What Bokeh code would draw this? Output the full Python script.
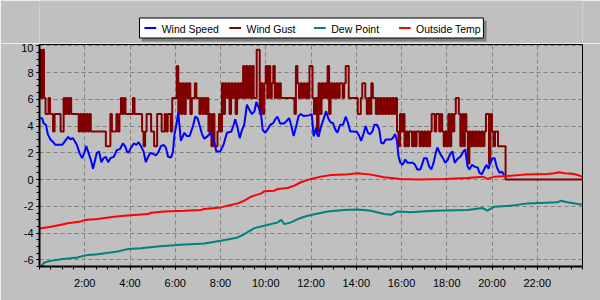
from bokeh.plotting import figure
from bokeh.layouts import column
from bokeh.models import Range1d, FixedTicker
from bokeh.core.properties import value
from bokeh.embed import file_html
from bokeh.resources import INLINE

# ---------------- data ----------------
# Wind speed: minutes after midnight / value
speed_min = [2, 7, 11, 17, 22, 29, 38, 42, 60, 68, 76, 82, 88, 93, 99, 106, 113, 119, 124, 130,
             137, 142, 147, 152, 158, 164, 170, 176, 182, 188, 197, 205, 214, 221, 227, 232, 236, 241, 250, 257,
             263, 269, 276, 282, 288, 294, 303, 309, 316, 322, 329, 335, 341, 349, 354, 358, 363, 368,
             375, 384, 391, 398, 407, 413, 419, 425, 431, 437, 446, 453, 459, 464, 469, 479, 488, 497,
             509, 515, 519, 525, 531, 537, 543, 550, 556, 563, 570, 575, 581, 587, 592, 599, 605, 612,
             619, 625, 631, 638, 649, 656, 662, 667, 674, 681, 687, 693, 700, 714, 722, 727, 734,
             736, 740, 746, 753, 760, 767, 773, 778, 784, 790, 797, 805, 812, 818, 824, 833, 842, 848,
             853, 859, 865, 871, 877, 883, 888, 895, 901, 906, 912, 918, 926, 932, 937, 943, 948, 952,
             957, 963, 970, 976, 983, 990, 996, 1002, 1010, 1016, 1020, 1027, 1033, 1039, 1045, 1051,
             1055, 1063, 1070, 1076, 1083, 1089, 1095, 1101, 1107,
             1111, 1117, 1124, 1129, 1135, 1140, 1147, 1155, 1162, 1167, 1173, 1179, 1185, 1191, 1195,
             1202, 1207, 1213, 1220, 1226, 1232]
speed_val = [4.58, 4.58, 4.2, 4.1, 3.4, 3.0, 2.75, 2.6, 2.6, 2.9, 3.2, 3.0, 3.1, 2.9, 2.6, 2.0, 1.6, 2.0, 2.5, 2.0,
             1.4, 0.8, 1.4, 2.0, 2.1, 1.3, 1.6, 1.7, 1.3, 1.6, 1.7, 2.2, 2.3, 2.7, 2.5, 2.1, 2.0, 2.3, 2.7, 2.6,
             2.8, 2.5, 2.1, 1.3, 1.7, 2.0, 1.9, 1.8, 2.1, 2.5, 2.6, 2.4, 1.7, 1.65, 2.1, 3.4, 4.1, 5.0,
             2.9, 3.5, 3.25, 3.25, 4.0, 4.7, 4.6, 4.0, 3.4, 3.05, 3.25, 3.5, 3.1, 2.75, 2.1, 2.1, 2.6, 3.5,
             3.6, 4.1, 4.5, 3.9, 3.1, 3.7, 4.1, 5.6, 5.25, 4.9, 5.1, 5.8, 5.4, 5.0, 3.7, 3.5, 3.75, 4.1,
             4.2, 4.5, 4.7, 4.2, 4.2, 4.4, 4.6, 4.1, 3.25, 4.0, 4.75, 4.9, 4.75, 4.8, 4.9, 3.25, 3.9,
             3.4, 3.2, 3.9, 4.5, 5.1, 4.5, 4.25, 4.25, 3.75, 3.5, 4.1, 4.1, 4.7, 4.25, 3.6, 3.6, 3.55, 3.25,
             2.9, 3.4, 4.0, 3.5, 3.4, 3.6, 4.1, 4.1, 3.75, 2.75, 2.7, 3.0, 3.0, 3.0, 3.1, 3.4, 2.9, 1.75,
             1.25, 1.1, 1.5, 1.25, 1.25, 1.25, 1.1, 0.75, 0.75, 1.25, 1.6, 1.6, 1.0, 0.75, 1.25, 2.0,
             2.4, 1.9, 1.6, 1.25, 1.5, 1.9, 2.1, 1.25, 1.5,
             1.6, 1.75, 2.1, 2.25, 1.0, 0.75, 1.1, 0.95, 0.9, 0.5, 0.4, 0.75, 1.1, 0.8, 1.25,
             1.6, 1.6, 0.9, 0.5, 0.6, 0.35]

# Wind gust: one row per hour, samples every 4 minutes
gust_step_min = 4
gust_rows = [
    [9.7, 6.1, 9.7, 6.1, 4.9, 4.9, 6.1, 4.9, 4.9, 3.6, 4.9, 4.9, 4.9, 4.9, 3.6],
    [3.6, 6.1, 4.9, 6.1, 4.9, 6.1, 4.9, 4.9, 4.9, 4.9, 4.9, 3.6, 4.9, 3.6, 4.9],
    [3.6, 4.9, 3.6, 4.9, 3.6, 3.6, 3.6, 3.6, 3.6, 3.6, 3.6, 3.6, 3.6, 3.6, 2.5],
    [2.5, 2.5, 4.9, 3.6, 3.6, 3.6, 4.9, 3.6, 4.9, 6.1, 4.9, 6.1, 4.9, 4.9, 4.9],
    [4.9, 4.9, 6.1, 4.9, 4.9, 4.9, 4.9, 4.9, 3.6, 2.5, 3.6, 4.9, 4.9, 4.9, 3.6],
    [3.6, 2.5, 2.5, 4.9, 4.9, 4.9, 3.6, 3.6, 4.9, 3.6, 4.9, 4.9, 3.6, 6.1, 6.1],
    [6.1, 8.5, 4.9, 7.2, 4.9, 7.2, 4.9, 7.2, 6.1, 7.2, 4.9, 6.1, 6.1, 7.2, 6.1],
    [6.1, 4.9, 6.1, 4.9, 6.1, 4.9, 6.1, 3.6, 4.9, 2.5, 4.9, 2.5, 2.5, 3.6, 4.9],
    [3.6, 7.2, 4.9, 7.2, 6.1, 7.2, 4.9, 7.2, 6.1, 7.2, 4.9, 7.2, 6.1, 7.2, 6.1],
    [8.5, 6.1, 8.5, 6.1, 8.5, 6.1, 8.5, 6.1, 6.1, 9.7, 9.7, 4.9, 7.2, 4.9, 7.2],
    [8.5, 6.1, 8.5, 6.1, 7.2, 8.5, 6.1, 7.2, 6.1, 7.2, 6.1, 6.1, 6.1, 6.1, 6.1],
    [6.1, 6.1, 6.1, 6.1, 4.9, 8.5, 7.2, 6.1, 7.2, 6.1, 7.2, 6.1, 7.2, 6.1, 8.5],
    [8.5, 6.1, 4.9, 6.1, 3.6, 7.2, 4.9, 7.2, 6.1, 7.2, 6.1, 8.5, 4.9, 7.2, 6.1],
    [7.2, 6.1, 7.2, 6.1, 7.2, 7.2, 6.1, 7.2, 8.5, 8.5, 6.1, 6.1, 6.1, 6.1, 6.1],
    [6.1, 4.9, 4.9, 6.1, 7.2, 7.2, 6.1, 4.9, 6.1, 4.9, 7.2, 6.1, 6.1, 4.9, 6.1],
    [4.9, 6.1, 4.9, 6.1, 4.9, 6.1, 4.9, 6.1, 4.9, 6.1, 4.9, 6.1, 3.6, 2.5, 4.9],
    [3.6, 4.9, 2.5, 3.6, 2.5, 3.6, 3.6, 2.5, 3.6, 2.5, 3.6, 3.6, 2.5, 3.6, 2.5],
    [3.6, 2.5, 3.6, 2.5, 3.6, 4.9, 4.9, 3.6, 4.9, 4.9, 3.6, 4.9, 3.6, 2.5, 3.6],
    [2.5, 4.9, 2.5, 4.9, 3.6, 4.9, 6.1, 6.1, 4.9, 2.5, 4.9, 2.5, 4.9, 3.6, 1.2],
    [3.6, 2.5, 3.6, 2.5, 3.6, 2.5, 3.6, 2.5, 3.6, 2.5, 3.6, 4.9, 4.9, 1.2, 4.9],
    [3.6, 2.5, 3.6, 3.6, 2.5, 2.5, 2.5, 2.5, 2.5, 0.0],
]
gust_tail_min = [1440]
gust_tail_val = [0.0]

# Outside temperature
temp_min = [0, 30, 57, 75, 110, 119, 154, 198, 225, 287, 296, 331, 384, 428, 437, 481, 499, 526, 543, 561,
            588, 596, 623, 632, 658, 676, 693, 720, 746, 773, 808, 844, 879, 914, 958, 1003, 1073, 1135,
            1175, 1188, 1206, 1241, 1285, 1347, 1365, 1378, 1392, 1418, 1440]
temp_val = [-3.65, -3.53, -3.38, -3.26, -3.13, -3.03, -2.95, -2.78, -2.7, -2.58, -2.48, -2.38, -2.33, -2.28,
            -2.2, -2.08, -1.95, -1.78, -1.58, -1.28, -1.03, -0.88, -0.83, -0.7, -0.63, -0.45, -0.2, 0.05,
            0.22, 0.34, 0.37, 0.47, 0.37, 0.18, 0.05, 0.0, 0.05, 0.12, 0.22, 0.05, 0.22, 0.27, 0.37, 0.42,
            0.47, 0.55, 0.47, 0.42, 0.22]

# Dew point
dew_min = [0, 4, 13, 30, 57, 101, 123, 154, 207, 234, 269, 313, 375, 437, 481, 526, 543, 570, 596, 632,
           641, 649, 667, 685, 702, 720, 764, 808, 844, 879, 914, 932, 950, 985, 1047, 1135, 1175, 1188,
           1206, 1250, 1294, 1374, 1383, 1400, 1440]
dew_val = [-6.55, -6.5, -6.2, -6.08, -5.95, -5.83, -5.65, -5.58, -5.38, -5.2, -5.13, -5.0, -4.88, -4.78,
           -4.58, -4.33, -4.08, -3.63, -3.45, -3.2, -3.0, -3.33, -3.2, -2.95, -2.78, -2.65, -2.38, -2.28,
           -2.23, -2.33, -2.58, -2.63, -2.38, -2.45, -2.33, -2.28, -2.13, -2.33, -2.03, -1.95, -1.78,
           -1.7, -1.58, -1.7, -1.88]

series_names = ["Wind Speed", "Wind Gust", "Dew Point", "Outside Temp"]
series_colors = ["#0000FF", "#800000", "#008080", "#FF0000"]
x_ticks = [2, 4, 6, 8, 10, 12, 14, 16, 18, 20, 22]
x_tick_labels = ["2:00", "4:00", "6:00", "8:00", "10:00", "12:00", "14:00", "16:00", "18:00", "20:00", "22:00"]
y_ticks = [-6, -4, -2, 0, 2, 4, 6, 8, 10]
y_tick_labels = ["-6", "-4", "-2", "0", "2", "4", "6", "8", "10"]

# ---------------- build ----------------
gust_val = [v for row in gust_rows for v in row]
gust_min = [i * gust_step_min for i in range(len(gust_val))] + gust_tail_min
gust_val = gust_val + gust_tail_val

def hours(mins):
    return [m / 60.0 for m in mins]

GREY = "#C0C0C0"
FONT = "Liberation Sans"
TOP_H = 43

# ---- legend strip (pixel coordinates, y downwards) ----
lg = figure(width=600, height=TOP_H, output_backend="svg", toolbar_location=None,
            x_range=Range1d(0, 600), y_range=Range1d(TOP_H, 0),
            x_axis_type=None, y_axis_type=None,
            min_border_left=0, min_border_right=0, min_border_top=0, min_border_bottom=0)
lg.background_fill_color = GREY
lg.border_fill_color = GREY
lg.outline_line_color = None
lg.grid.visible = False

box_l, box_t, box_w, box_h, shadow_off = 110, 17, 381, 21, 3
lg.quad(left=box_l + shadow_off, right=box_l + box_w + shadow_off,
        top=box_t + shadow_off, bottom=box_t + box_h + shadow_off,
        fill_color="#808080", line_color=None)
lg.quad(left=box_l + 0.5, right=box_l + box_w - 0.5, top=box_t + 0.5, bottom=box_t + box_h - 0.5,
        fill_color="white", line_color="black", line_width=1)
item_x0, item_pitch, sw_len, txt_gap = 116, 93.7, 13, 19
cy = box_t + box_h / 2
sw_x = [item_x0 + i * item_pitch for i in range(len(series_names))]
lg.segment(x0=sw_x, y0=[cy] * len(sw_x), x1=[x + sw_len for x in sw_x], y1=[cy] * len(sw_x),
           line_color=series_colors, line_width=2)
lg.text(x=[x + txt_gap for x in sw_x], y=[cy + 0.5] * len(sw_x), text=series_names,
        text_font=value(FONT), text_font_size=value("10.5px"), text_color="black",
        text_baseline="middle", text_align="left")

# ---- main chart ----
p = figure(width=600, height=300 - TOP_H, output_backend="svg", toolbar_location=None,
           x_range=Range1d(0, 24), y_range=Range1d(-6.5, 10.1),
           min_border_left=39, min_border_right=18, min_border_top=1, min_border_bottom=34)
p.background_fill_color = GREY
p.border_fill_color = GREY
p.outline_line_color = "black"
p.outline_line_width = 1

minor_x = [i * 0.5 for i in range(0, 49)]
minor_y = [-6.5 + i * 0.5 for i in range(0, 34)]
p.xaxis.ticker = FixedTicker(ticks=x_ticks, minor_ticks=minor_x)
p.yaxis.ticker = FixedTicker(ticks=y_ticks, minor_ticks=minor_y)
p.xaxis.major_label_overrides = {t: l for t, l in zip(x_ticks, x_tick_labels)}
p.yaxis.major_label_overrides = {t: l for t, l in zip(y_ticks, y_tick_labels)}
for ax in (p.xaxis, p.yaxis):
    ax.axis_line_color = "black"
    ax.axis_line_width = 2
    ax.major_tick_line_color = "black"
    ax.minor_tick_line_color = "black"
    ax.major_tick_in = 0
    ax.major_tick_out = 3
    ax.minor_tick_in = 0
    ax.minor_tick_out = 3
    ax.major_label_text_font = FONT
    ax.major_label_text_font_size = "11px"
    ax.major_label_text_color = "black"
p.xaxis.major_label_standoff = 7
p.yaxis.major_label_standoff = 3

p.xgrid.ticker = FixedTicker(ticks=x_ticks)
p.ygrid.ticker = FixedTicker(ticks=y_ticks)
p.grid.grid_line_color = "#808080"
p.grid.grid_line_dash = "4 3"
p.grid.grid_line_width = 1

p.step(hours(gust_min), gust_val, mode="after", line_color=series_colors[1], line_width=2)
p.line(hours(speed_min), speed_val, line_color=series_colors[0], line_width=2)
p.line(hours(dew_min), dew_val, line_color=series_colors[2], line_width=2)
p.line(hours(temp_min), temp_val, line_color=series_colors[3], line_width=2)

layout = column(lg, p, spacing=0)
open("out.html", "w").write(file_html(layout, INLINE))
